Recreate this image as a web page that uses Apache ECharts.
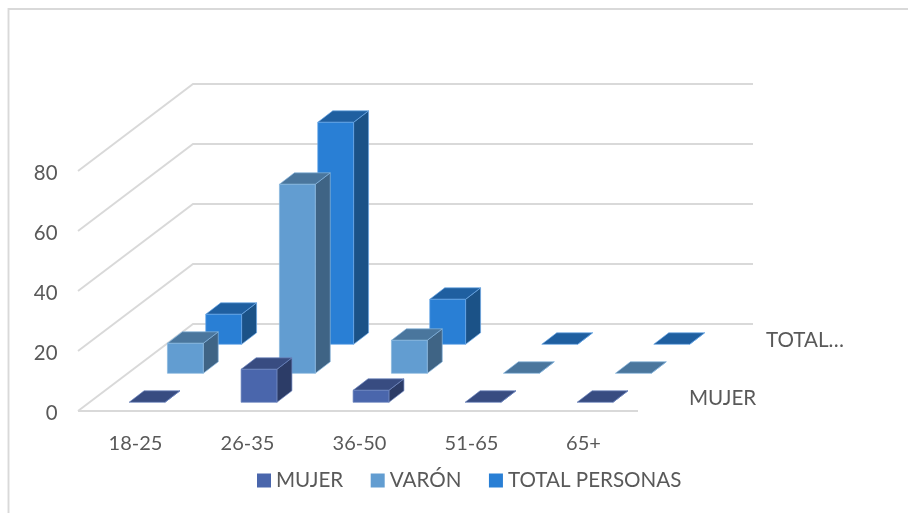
<!DOCTYPE html>
<html>
<head>
<meta charset="utf-8">
<style>
  html, body { margin: 0; padding: 0; background: #fff; }
  #chart { width: 908px; height: 513px; }
</style>
</head>
<body>
<div id="chart"></div>
<script src="https://cdn.jsdelivr.net/npm/echarts@6/dist/echarts.min.js"></script>
<script>
const categories = ['18-25', '26-35', '36-50', '51-65', '65+']
const mujer = [0, 11, 4, 0, 0]
const varon = [10, 63, 11, 0, 0]
const totalPersonas = [10, 74, 15, 0, 0]
const yTicks = [0, 20, 40, 60, 80]

// 柱子三个面的颜色
const faces = {
  MUJER: { front: '#4a66ac', top: '#384c81', side: '#2c3c67', edge: '#6f86c0' },
  'VARÓN': { front: '#629dd1', top: '#4a769d', side: '#3f6485', edge: '#8ab8e0' },
  'TOTAL PERSONAS': { front: '#297fd5', top: '#1f5fa0', side: '#1b5287', edge: '#6aa8e6' }
}

// 斜向深度 (px)
const depthX = 115
const depthY = 87
const rows = 3
const barDepthX = 15
const barDepthY = 11.5
const gridColor = '#d9d9d9'
const textColor = '#595959'
const font = 'Lato'

const poly = (points, fill, edge) => ({
  type: 'polygon',
  shape: { points },
  style: { fill, stroke: edge, lineWidth: 0.7 }
})

const renderBar = (row, name) => (params, api) => {
  const i = api.value(0)
  const base = api.coord([i, 0])
  const top = api.coord([i, api.value(1)])
  const w = api.size([1, 0])[0] * 0.32
  const ox = (row + 0.3) * depthX / rows
  const oy = (row + 0.3) * depthY / rows
  const x0 = base[0] + ox - w / 2
  const x1 = x0 + w
  const yb = base[1] - oy
  const yt = top[1] - oy
  const c = faces[name]
  const children = [
    poly([[x1, yb], [x1 + barDepthX, yb - barDepthY], [x1 + barDepthX, yt - barDepthY], [x1, yt]], c.side, c.edge),
    poly([[x0, yt], [x1, yt], [x1 + barDepthX, yt - barDepthY], [x0 + barDepthX, yt - barDepthY]], c.top, c.edge)
  ]
  if (yb - yt > 0) {
    children.push(poly([[x0, yb], [x1, yb], [x1, yt], [x0, yt]], c.front, c.edge))
  }
  return { type: 'group', children }
}

const makeBars = (name, row, values) => ({
  name,
  type: 'custom',
  coordinateSystem: 'cartesian2d',
  z: 5 + rows - row,
  clip: false,
  silent: true,
  itemStyle: { color: faces[name].front },
  encode: { x: 0, y: 1 },
  data: values.map((v, i) => [i, v]),
  renderItem: renderBar(row, name)
})

// 墙面和地面的网格线
const renderGrid = (params, api) => {
  const v = api.value(1)
  const y = api.coord([0, v])[1]
  const left = params.coordSys.x - 1.5
  const right = left + params.coordSys.width
  const lineStyle = { stroke: gridColor, lineWidth: 1.9, fill: null }
  const children = [{
    type: 'polyline',
    shape: { points: [[left, y], [left + depthX, y - depthY], [right + depthX, y - depthY]] },
    style: lineStyle
  }]
  if (v === 0) {
    children.push({ type: 'line', shape: { x1: left, y1: y, x2: right, y2: y }, style: lineStyle })
  }
  return { type: 'group', children }
}

const options = {
  animation: false,
  backgroundColor: '#fff',
  textStyle: { fontFamily: font },
  grid: { left: 79.5, top: 171, width: 560, height: 240 },
  legend: {
    left: 257,
    top: 470,
    padding: 0,
    icon: 'rect',
    itemWidth: 14,
    itemHeight: 14,
    itemGap: 27.5,
    data: ['MUJER', 'VARÓN', 'TOTAL PERSONAS'],
    textStyle: { color: textColor, fontSize: 20.6, fontFamily: font }
  },
  xAxis: {
    type: 'category',
    data: categories,
    axisLine: { show: false },
    axisTick: { show: false },
    axisLabel: { color: textColor, fontSize: 20, fontFamily: font, margin: 23 }
  },
  yAxis: {
    type: 'value',
    min: 0,
    max: 80,
    interval: 20,
    splitLine: { show: false },
    axisLine: { show: false },
    axisTick: { show: false },
    // lineHeight 小一点，让刻度文字比网格线略低
    axisLabel: { color: textColor, fontSize: 20.4, fontFamily: font, margin: 22, verticalAlign: 'top', lineHeight: 4 }
  },
  graphic: [
    {
      type: 'polyline',
      silent: true,
      shape: { points: [[8.5, 520], [8.5, 9], [915, 9]] },
      style: { stroke: gridColor, lineWidth: 1.9, fill: null }
    },
    {
      type: 'text',
      left: 766,
      top: 330,
      silent: true,
      style: { text: 'TOTAL…', fill: textColor, font: '20.6px ' + font }
    },
    {
      type: 'text',
      left: 689,
      top: 388,
      silent: true,
      style: { text: 'MUJER', fill: textColor, font: '20.6px ' + font }
    }
  ],
  series: [
    {
      type: 'custom',
      coordinateSystem: 'cartesian2d',
      z: 1,
      clip: false,
      silent: true,
      encode: { x: 0, y: 1 },
      data: yTicks.map((t) => [0, t]),
      renderItem: renderGrid
    },
    makeBars('MUJER', 0, mujer),
    makeBars('VARÓN', 1, varon),
    makeBars('TOTAL PERSONAS', 2, totalPersonas)
  ]
}

const mychart = echarts.init(document.getElementById('chart'))
mychart.setOption(options)
</script>
</body>
</html>
